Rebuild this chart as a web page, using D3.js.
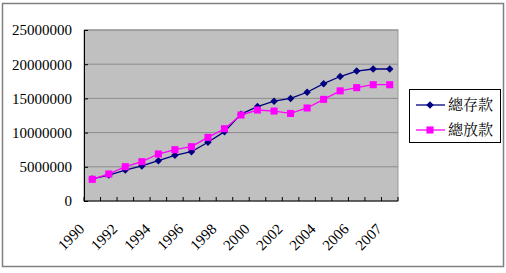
<!DOCTYPE html>
<html>
<head>
<meta charset="utf-8">
<script src="https://cdn.jsdelivr.net/npm/d3@7"></script>
<style>
  body { margin: 0; background: #fff; }
  svg { display: block; }
  .serif { font-family: "Liberation Serif", "DejaVu Serif", "Times New Roman", serif; }
  .cjk { font-family: "Noto Serif CJK TC", "Noto Sans CJK TC", serif; }
</style>
</head>
<body>
<div class="canvas"></div>
<script>
// data
const categories = ['1990', '1991', '1992', '1993', '1994', '1995', '1996', '1997', '1998', '1999',
  '2000', '2001', '2002', '2003', '2004', '2005', '2006', '2007-06', '2007'];
const tickLabels = ['1990', '1992', '1994', '1996', '1998', '2000', '2002', '2004', '2006', '2007'];
const seriesNames = ['總存款', '總放款'];
const deposits = [3220000, 3800000, 4530000, 5120000, 5900000, 6680000, 7200000, 8580000, 10140000, 12700000,
  13800000, 14600000, 15000000, 15900000, 17150000, 18200000, 19000000, 19300000, 19300000];
const loans = [3170000, 3950000, 5020000, 5750000, 6870000, 7500000, 7940000, 9300000, 10570000, 12570000,
  13300000, 13150000, 12800000, 13600000, 14860000, 16100000, 16570000, 17000000, 17000000];
const yTicks = [0, 5000000, 10000000, 15000000, 20000000, 25000000];

const width = 506, height = 273;
const plot = { left: 84, top: 30, right: 398, bottom: 201 };
const pw = plot.right - plot.left, ph = plot.bottom - plot.top;

const svg = d3.select('.canvas')
  .append('svg')
  .attr('width', width)
  .attr('height', height);

// chart border
svg.append('rect')
  .attr('x', 2.5).attr('y', 3.5)
  .attr('width', 501).attr('height', 263)
  .attr('fill', '#fff')
  .attr('stroke', '#808080')
  .attr('stroke-width', 1.5);

const graph = svg.append('g')
  .attr('transform', `translate(${plot.left}, ${plot.top})`);

const x = d3.scaleBand()
  .domain(categories)
  .range([0, pw]);

const y = d3.scaleLinear()
  .domain([0, 25000000])
  .range([ph, 0]);

// plot area
graph.append('rect')
  .attr('width', pw).attr('height', ph)
  .attr('fill', '#c0c0c0')
  .attr('stroke', '#9a9a9a');

// gridlines
graph.selectAll('.grid')
  .data(yTicks.slice(1))
  .enter().append('line')
  .attr('x1', 0).attr('x2', pw)
  .attr('y1', d => y(d)).attr('y2', d => y(d))
  .attr('stroke', '#8c8c8c');

// y axis
const yAxisGroup = graph.append('g')
  .call(d3.axisLeft(y).tickValues(yTicks).tickSize(-4).tickPadding(12).tickFormat(d3.format('d')));
yAxisGroup.attr('font-family', null);
yAxisGroup.select('.domain').attr('stroke', '#000');
yAxisGroup.selectAll('text')
  .attr('class', 'serif')
  .attr('font-size', 15)
  .attr('fill', '#000');

// x axis: ticks at category boundaries
const boundaries = d3.range(categories.length + 1).map(i => i * x.step());
const xAxisGroup = graph.append('g')
  .attr('transform', `translate(0, ${ph})`);
xAxisGroup.append('line')
  .attr('x1', 0).attr('x2', pw)
  .attr('stroke', '#000');
xAxisGroup.selectAll('.tick')
  .data(boundaries)
  .enter().append('line')
  .attr('x1', d => d).attr('x2', d => d)
  .attr('y1', 0).attr('y2', -4)
  .attr('stroke', '#000');

const labelCats = tickLabels.map((t, i) => categories[i * 2]);
xAxisGroup.selectAll('text')
  .data(tickLabels)
  .enter().append('text')
  .attr('class', 'serif')
  .attr('transform', (d, i) => `translate(${x(labelCats[i]) + x.bandwidth() / 2 - 7}, 29) rotate(-45)`)
  .attr('text-anchor', 'end')
  .attr('font-size', 15)
  .attr('fill', '#000')
  .text(d => d);

// series: diamond = square turned 45deg
const colors = ['#000080', '#ff00ff'];
const symSizes = [28, 50];
const rotations = [45, 0];
const allSeries = [deposits, loans];
const marker = s => d3.symbol().type(d3.symbolSquare).size(symSizes[s]);

const line = d3.line()
  .x((d, i) => x(categories[i]) + x.bandwidth() / 2)
  .y(d => y(d));

allSeries.forEach((values, s) => {
  graph.append('path')
    .datum(values)
    .attr('d', line)
    .attr('fill', 'none')
    .attr('stroke', colors[s])
    .attr('stroke-width', 1.3);
});

allSeries.forEach((values, s) => {
  graph.selectAll(`.m${s}`)
    .data(values)
    .enter().append('path')
    .attr('transform', (d, i) => `translate(${x(categories[i]) + x.bandwidth() / 2}, ${y(d)}) rotate(${rotations[s]})`)
    .attr('d', marker(s))
    .attr('fill', colors[s]);
});

// legend
const legend = svg.append('g')
  .attr('transform', 'translate(409, 89)');
legend.append('rect')
  .attr('x', 0.5).attr('y', 0.5)
  .attr('width', 91).attr('height', 53)
  .attr('fill', '#fff')
  .attr('stroke', '#000');

seriesNames.forEach((name, s) => {
  const ly = 16 + s * 25;
  legend.append('line')
    .attr('x1', 7).attr('x2', 36)
    .attr('y1', ly).attr('y2', ly)
    .attr('stroke', colors[s])
    .attr('stroke-width', 1.3);
  legend.append('path')
    .attr('transform', `translate(21, ${ly}) rotate(${rotations[s]})`)
    .attr('d', marker(s))
    .attr('fill', colors[s]);
  legend.append('text')
    .attr('class', 'cjk')
    .attr('x', 39).attr('y', ly + 5)
    .attr('font-size', 15)
    .attr('fill', '#000')
    .text(name);
});
</script>
</body>
</html>
